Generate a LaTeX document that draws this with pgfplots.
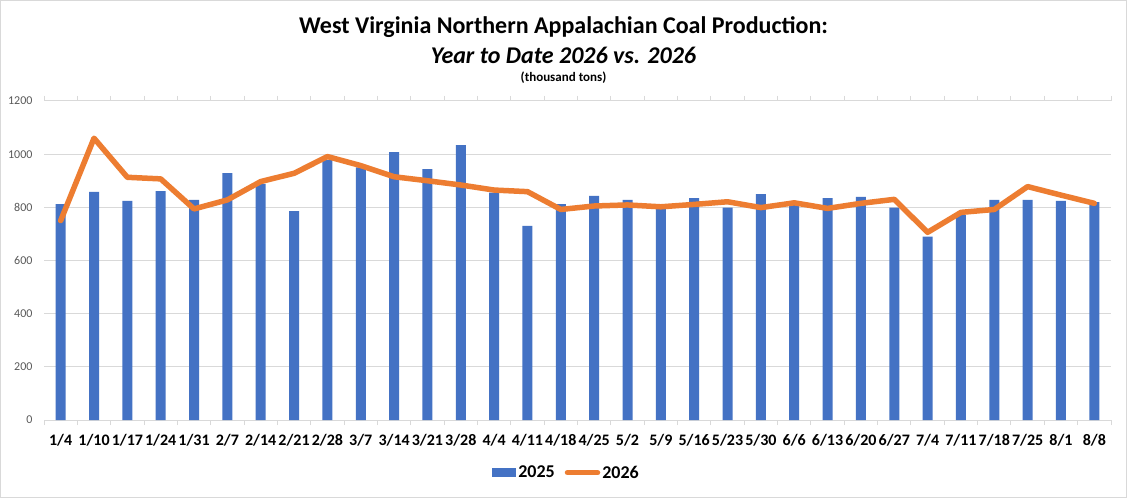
\documentclass[border=0pt]{standalone}
\usepackage{pgfplots}
\pgfplotsset{compat=1.18}
\usepackage{fontspec}
\setmainfont{Carlito}
\definecolor{cblue}{HTML}{4472C4}
\definecolor{corange}{HTML}{ED7D31}
\definecolor{cgrid}{HTML}{D9D9D9}
\definecolor{ctick}{HTML}{595959}
\begin{document}
\begin{tikzpicture}[x=1pt,y=1pt]
\useasboundingbox (0,0) rectangle (1127,498);
\fill[white] (0,0) rectangle (1127,498);
\draw[cgrid, line width=1pt] (0.5,0.5) rectangle (1126.5,497.5);
\node[font=\bfseries\fontsize{24}{28}\selectfont, text=black] at (563.5,471) {West Virginia Northern Appalachian Coal Production:};
\node[font=\bfseries\itshape\fontsize{24}{28}\selectfont, text=black] at (563.5,443) {Year to Date 2026 vs. 2026};
\node[font=\bfseries\fontsize{13}{15}\selectfont, text=black] at (563.5,420) {(thousand tons)};
\begin{axis}[
  at={(44pt,78pt)}, anchor=south west,
  scale only axis, width=1067pt, height=319pt,
  xmin=-0.5, xmax=31.5, ymin=0, ymax=1200,
  ytick={0,200,...,1200},
  xtick={0,...,31},
  xticklabels={1/4,1/10,1/17,1/24,1/31,2/7,2/14,2/21,2/28,3/7,3/14,3/21,3/28,4/4,4/11,4/18,4/25,5/2,5/9,5/16,5/23,5/30,6/6,6/13,6/20,6/27,7/4,7/11,7/18,7/25,8/1,8/8},
  major tick length=0pt,
  axis line style={draw=none},
  ymajorgrids, grid style={cgrid, line width=1pt},
  /pgf/number format/assume math mode=true,
  /pgf/number format/1000 sep={},
  yticklabel style={font=\fontsize{12}{14}\selectfont, text=ctick, xshift=-8pt},
  xticklabel style={font=\bfseries\fontsize{16}{18}\selectfont, text=black, yshift=-11pt},
  extra x ticks={-0.5,0.5,...,31.5},
  extra x tick labels={},
  extra tick style={major tick length=5pt, tick align=outside, tick style={cgrid, line width=1pt}, grid=none},
  legend style={at={(0.4897,-0.165)}, anchor=center, draw=none, fill=none,
    font=\bfseries\fontsize{18}{20}\selectfont, legend columns=2,
    /tikz/every even column/.append style={column sep=8pt},
    legend cell align=left},
  clip=false,
]
\draw[cgrid, line width=1pt] (axis cs:-0.5,0) -- (axis cs:31.5,0);
\addplot[ybar, bar width=10pt, fill=cblue, draw=none, area legend,
  legend image code/.code={\fill[cblue] (0pt,-4.5pt) rectangle (24pt,4.5pt);}]
  coordinates {(0,812)(1,858)(2,824)(3,861)(4,828)(5,929)(6,888)(7,786)(8,978)(9,950)(10,1008)(11,944)(12,1034)(13,855)(14,730)(15,812)(16,843)(17,828)(18,795)(19,835)(20,799)(21,850)(22,808)(23,835)(24,839)(25,799)(26,690)(27,771)(28,828)(29,828)(30,824)(31,820)};
\addlegendentry{2025}
\addplot[corange, line width=5.5pt, line join=round, line cap=round, mark=none,
  legend image code/.code={\draw[corange, line width=5.5pt, line cap=round] (3pt,0pt) -- (33pt,0pt);}]
  coordinates {(0,750)(1,1060)(2,913)(3,907)(4,794)(5,828)(6,897)(7,928)(8,991)(9,957)(10,915)(11,900)(12,884)(13,865)(14,859)(15,792)(16,805)(17,809)(18,802)(19,811)(20,821)(21,799)(22,817)(23,796)(24,815)(25,830)(26,706)(27,781)(28,792)(29,878)(30,846)(31,815)};
\addlegendentry{2026}
\end{axis}
\end{tikzpicture}
\end{document}
